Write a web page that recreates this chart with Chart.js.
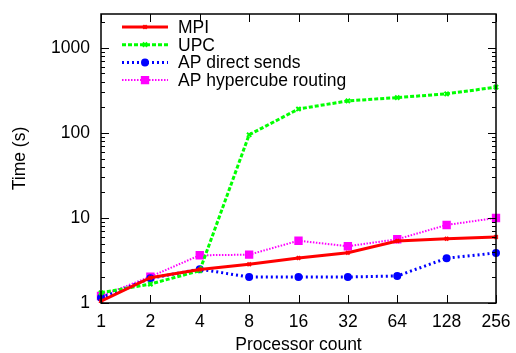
<!DOCTYPE html>
<html>
  <head>
    <style>
      body { margin: 0; background: #fff; }
    </style>
    <script src="https://cdn.jsdelivr.net/npm/chart.js"></script>
  </head>
  <body>
    <canvas id="timeChart" width="516" height="353"></canvas>

    <script>
      var procs = ['1', '2', '4', '8', '16', '32', '64', '128', '256'];
      var mpi = [1.05, 1.98, 2.48, 2.85, 3.38, 3.9, 5.35, 5.7, 5.98];
      var upc = [1.32, 1.67, 2.4, 95, 191, 238, 260, 288, 345];
      var apDirect = [1.15, 1.95, 2.5, 2.02, 2.02, 2.02, 2.08, 3.36, 3.88];
      var apHypercube = [1.21, 2.04, 3.64, 3.7, 5.4, 4.65, 5.62, 8.27, 10];
      var yTicks = [1, 10, 100, 1000];

      var FONT = '"Liberation Sans", Arial, sans-serif';
      var FSIZE = 17.5;

      // gnuplot-style legend: line sample with marker in the middle
      var lineLegend = {
        id: 'lineLegend',
        afterDraw: function (chart) {
          var ctx = chart.ctx;
          var x0 = 122, x1 = 168, y = 27;
          ctx.save();
          chart.data.datasets.forEach(function (ds, i) {
            var yy = y + i * 17.7;
            ctx.strokeStyle = ds.borderColor;
            ctx.lineWidth = ds.borderWidth;
            ctx.setLineDash(ds.borderDash || []);
            ctx.beginPath();
            ctx.moveTo(x0, yy);
            ctx.lineTo(x1, yy);
            ctx.stroke();
            ctx.setLineDash([]);
            ctx.strokeStyle = ds.borderColor;
            ctx.fillStyle = ds.borderColor;
            ctx.lineWidth = ds.pointBorderWidth;
            Chart.helpers.drawPoint(ctx, {
              pointStyle: ds.pointStyle, radius: ds.pointRadius, rotation: 0,
              borderWidth: ds.pointBorderWidth
            }, (x0 + x1) / 2, yy);
            ctx.fillStyle = '#000';
            ctx.font = FSIZE + 'px ' + FONT;
            ctx.textBaseline = 'middle';
            ctx.fillText(ds.label, 178, yy + 1);
          });
          ctx.restore();
        }
      };

      // inward ticks on all four sides, plus frame
      var frameTicks = {
        id: 'frameTicks',
        afterDatasetsDraw: function (chart) {
          var ctx = chart.ctx, a = chart.chartArea;
          var xs = chart.scales.x, ys = chart.scales.y;
          ctx.save();
          ctx.strokeStyle = '#000';
          ctx.lineWidth = 1;
          ctx.beginPath();
          for (var i = 0; i < procs.length; i++) {
            var px = Math.round(xs.getPixelForValue(i)) + 0.5;
            ctx.moveTo(px, a.bottom); ctx.lineTo(px, a.bottom - 8);
            ctx.moveTo(px, a.top); ctx.lineTo(px, a.top + 8);
          }
          for (var d = 1; d <= 1000; d *= 10) {
            for (var m = 1; m <= 9; m++) {
              var v = d * m;
              if (v > ys.max) break;
              var py = Math.round(ys.getPixelForValue(v)) + 0.5;
              var len = m === 1 ? 8 : 4;
              ctx.moveTo(a.left, py); ctx.lineTo(a.left + len, py);
              ctx.moveTo(a.right, py); ctx.lineTo(a.right - len, py);
            }
          }
          ctx.stroke();
          ctx.lineWidth = 1.5;
          ctx.strokeRect(a.left, a.top, a.right - a.left, a.bottom - a.top);
          ctx.restore();
        }
      };

      function series(label, data, color, width, dash, style, radius) {
        return {
          label: label,
          data: data,
          borderColor: color,
          backgroundColor: color,
          borderWidth: width,
          borderDash: dash,
          pointStyle: style,
          pointRadius: radius,
          pointBorderWidth: 2,
          pointBorderColor: color,
          pointBackgroundColor: color,
          tension: 0,
          fill: false
        };
      }

      new Chart(document.getElementById('timeChart'), {
        type: 'line',
        data: {
          labels: procs,
          datasets: [
            series('MPI', mpi, '#ff0000', 3, [], 'crossRot', 2.5),
            series('UPC', upc, '#00ff00', 3, [4, 2], 'crossRot', 3),
            series('AP direct sends', apDirect, '#0000ff', 3, [2, 3], 'circle', 3),
            series('AP hypercube routing', apHypercube, '#ff00ff', 2, [1.5, 1.5], 'rect', 4.5)
          ]
        },
        plugins: [frameTicks, lineLegend],
        options: {
          responsive: false,
          animation: false,
          layout: { padding: { top: 14, right: 20, left: 0, bottom: 0 } },
          plugins: { legend: { display: false }, tooltip: { enabled: false } },
          scales: {
            x: {
              type: 'category',
              offset: false,
              grid: { display: false, drawTicks: false },
              border: { display: false },
              afterFit: function (scale) {
                scale.height = 50;
                scale.paddingLeft = 0;
                scale.paddingRight = 0;
              },
              ticks: { color: '#000', font: { family: FONT, size: FSIZE }, padding: 9, maxRotation: 0, autoSkip: false },
              title: { display: true, text: 'Processor count', color: '#000', font: { family: FONT, size: FSIZE }, padding: { top: 0, bottom: -3 } }
            },
            y: {
              type: 'logarithmic',
              min: 1,
              max: 2500,
              grid: { display: false, drawTicks: false },
              border: { display: false },
              afterFit: function (scale) {
                scale.width = 101;
                scale.paddingTop = 0;
                scale.paddingBottom = 0;
              },
              afterBuildTicks: function (scale) {
                scale.ticks = yTicks.map(function (v) { return { value: v, major: true }; });
              },
              ticks: {
                color: '#000', font: { family: FONT, size: FSIZE }, padding: 11,
                callback: function (v) { return String(v); }
              },
              title: { display: true, text: 'Time (s)', color: '#000', font: { family: FONT, size: FSIZE }, padding: { top: 10, bottom: 0 } }
            }
          }
        }
      });
    </script>
  </body>
</html>
